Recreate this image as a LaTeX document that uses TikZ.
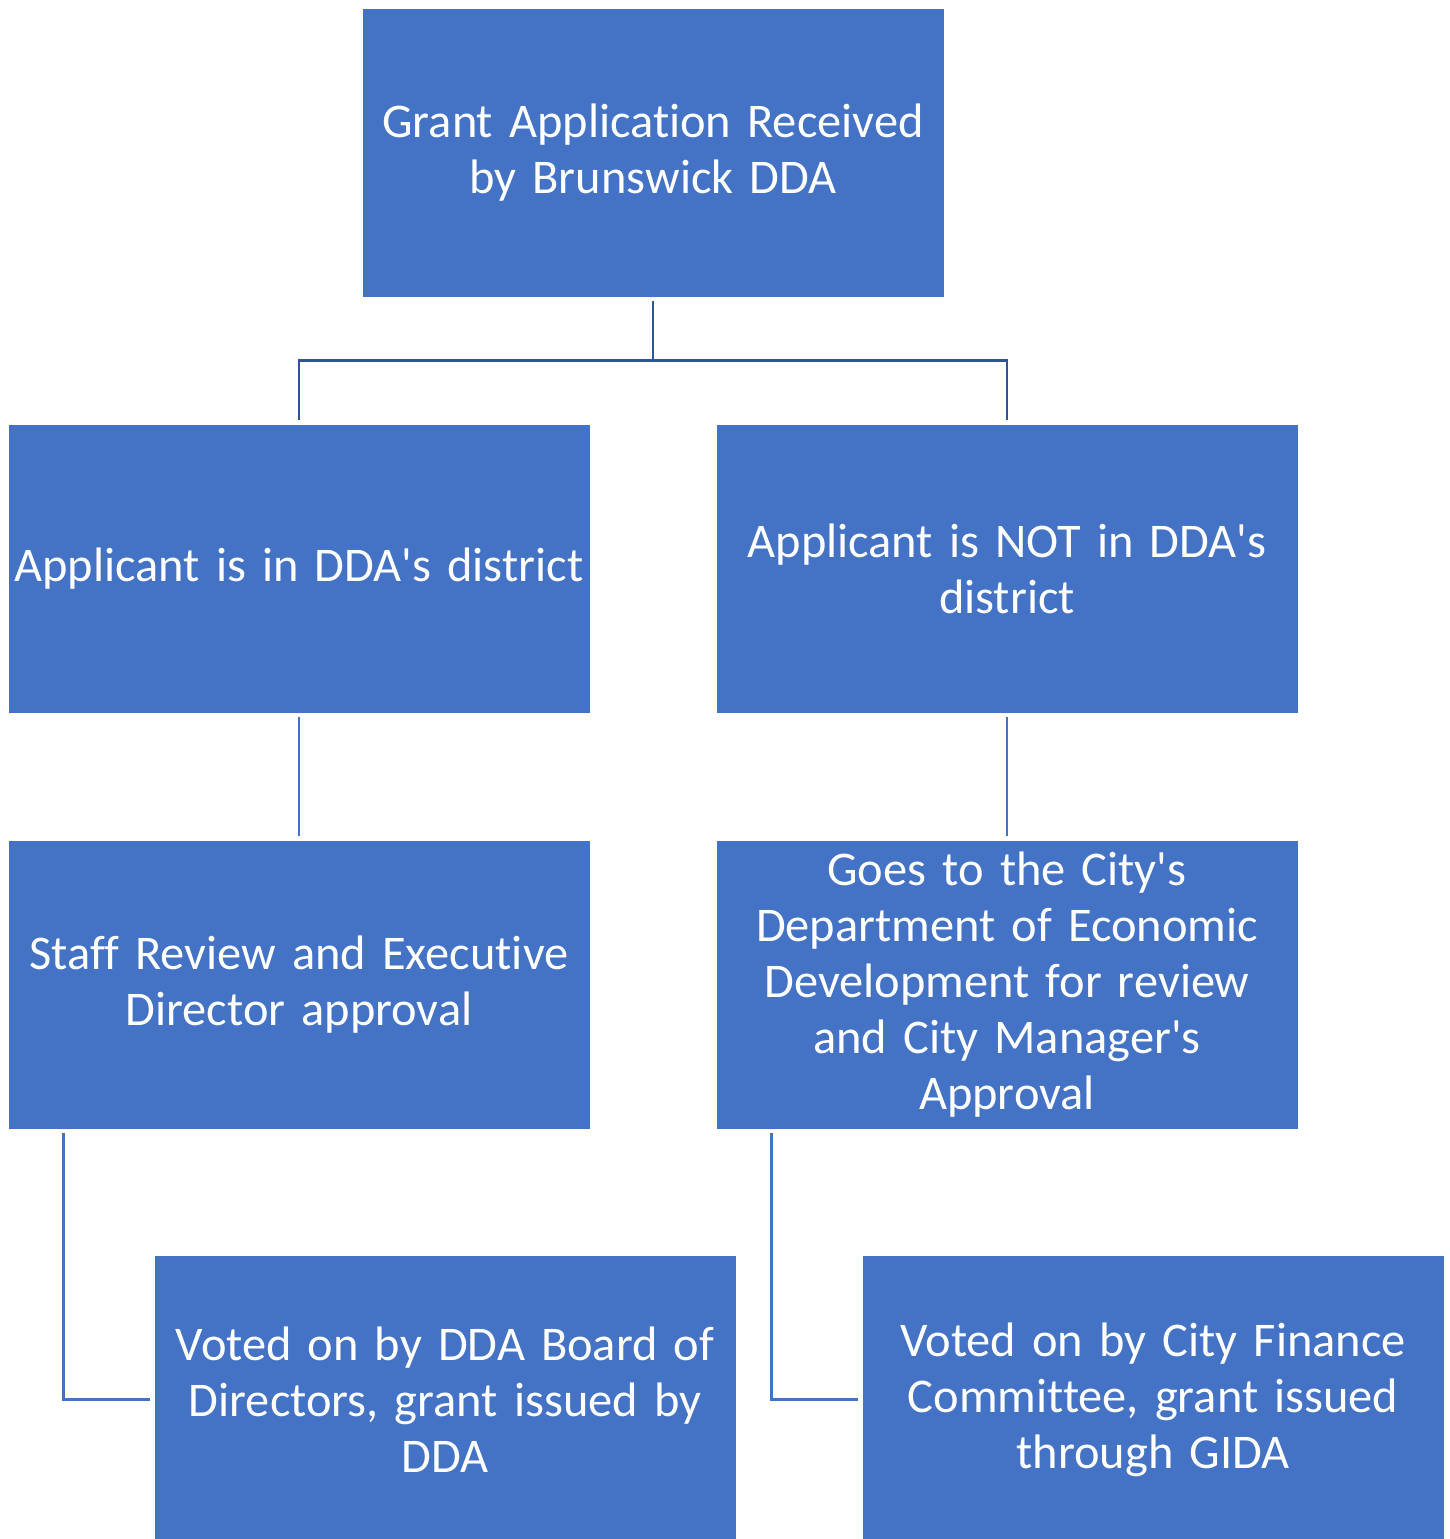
\documentclass[tikz,border=0pt]{standalone}
\usepackage{fontspec}
\setmainfont[Ligatures={TeXOff,CommonOff}]{Carlito}
\usetikzlibrary{calc}

\definecolor{boxblue}{HTML}{4472C4}
\definecolor{linkdark}{HTML}{2F5597}

\begin{document}
\begin{tikzpicture}[x=0.5pt,y=-0.5pt,
                    stage/.style={rectangle,fill=boxblue,draw=white,line width=0.4pt,
                      minimum width=291pt,minimum height=144.5pt,text width=289pt,
                      align=center,text=white,inner sep=0pt,
                      font=\fontsize{24.2}{28}\selectfont},
                    link/.style={draw=boxblue,line width=1.3pt,shorten <=2pt,shorten >=2pt},
                    toplink/.style={link,draw=linkdark}]
  \clip (0,0) rectangle (1450,1539);
  \useasboundingbox (0,0) rectangle (1450,1539);

  \node[stage] (top) at (653,152.5)  {Grant Application Received\\by Brunswick DDA};
  \node[stage] (in)  at (299,568.5)  {Applicant is in DDA's district};
  \node[stage] (out) at (1007,568.5) {Applicant is NOT in DDA's\\district};
  \node[stage] (staff) at (299,984.5)  {Staff Review and Executive\\Director approval};
  \node[stage] (city)  at (1007,984.5) {Goes to the City's\\Department of Economic\\Development for review\\and City Manager's\\Approval};
  \node[stage] (board) at (445,1399.5)  {Voted on by DDA Board of\\Directors, grant issued by\\DDA};
  \node[stage] (gida)  at (1153,1399.5) {Voted on by City Finance\\Committee, grant issued\\through GIDA};

  % top split
  \path[toplink] (top.south) -- ++(0,63) -| (in.north);
  \path[toplink] (top.south) -- ++(0,63) -| (out.north);

  \path[link] (in.south)  -- (staff.north);
  \path[link] (out.south) -- (city.north);

  \path[link] ([xshift=28pt]staff.south west) |- (board.west);
  \path[link] ([xshift=28pt]city.south west)  |- (gida.west);
\end{tikzpicture}
\end{document}
